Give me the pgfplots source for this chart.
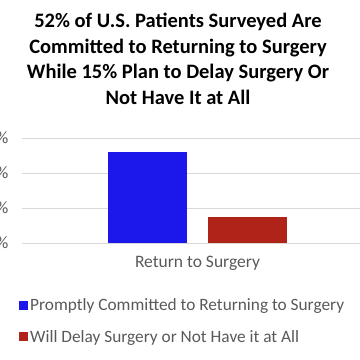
\documentclass[border=0pt]{standalone}
\usepackage{pgfplots}
\pgfplotsset{compat=1.18}
\usepackage{fontspec}
\setmainfont{Carlito}
\definecolor{barblue}{HTML}{1C18EC}
\definecolor{barred}{HTML}{B02318}
\definecolor{gridgray}{HTML}{D9D9D9}
\definecolor{txtgray}{HTML}{595959}
\begin{document}
\begin{tikzpicture}
\begin{axis}[
  at={(22bp,-243bp)}, anchor=south west,
  scale only axis, width=351bp, height=105bp,
  xmin=0, xmax=1, ymin=0, ymax=60,
  axis line style={draw=none},
  ytick={0,20,40,60},
  yticklabel={\pgfmathprintnumber{\tick}\%},
  /pgf/number format/assume math mode=true,
  yticklabel style={font=\fontsize{17.5bp}{20bp}\selectfont, text=txtgray, xshift=-10bp},
  ymajorgrids, grid style={gridgray, line width=1bp},
  major tick length=0pt,
  xtick={0.5}, xticklabels={Return to Surgery},
  xticklabel style={font=\fontsize{17.5bp}{20bp}\selectfont, text=txtgray, yshift=-10bp},
  ybar, bar width=79bp, bar shift=0pt,
  legend style={at={(-0.0085,-0.51)}, anchor=north west, draw=none, fill=none,
    font=\fontsize{17.3bp}{20bp}\selectfont, text=txtgray, inner sep=0pt,
    row sep=14bp, legend cell align=left},
  legend image code/.code={\fill[#1] (0bp,-4.5bp) rectangle (9bp,4.5bp);},
]
\addplot[fill=barblue, draw=none] coordinates {(0.3575,52)};
\addplot[fill=barred, draw=none] coordinates {(0.6425,15)};
\legend{Promptly Committed to Returning to Surgery, Will Delay Surgery or Not Have it at All}
\end{axis}
\node[align=center, font=\bfseries\fontsize{20.5bp}{25.7bp}\selectfont] at (178bp,-59bp)
  {52\% of U.S. Patients Surveyed Are\\Committed to Returning to Surgery\\While 15\% Plan to Delay Surgery Or\\Not Have It at All};
\pgfresetboundingbox
\useasboundingbox (0,0) rectangle (360bp,-360bp);
\end{tikzpicture}
\end{document}
